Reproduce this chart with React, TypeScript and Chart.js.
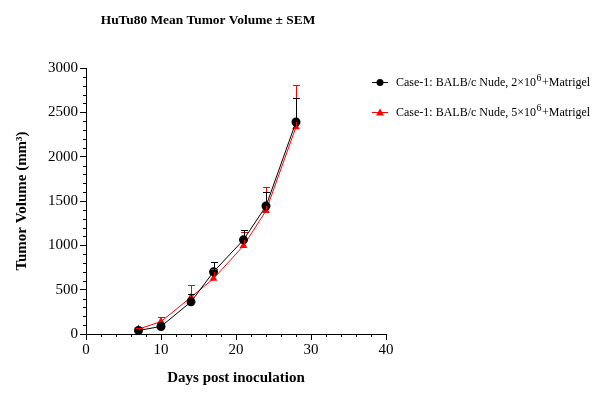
import React, { useEffect, useRef } from "react";
import { Chart, registerables } from "chart.js";

Chart.register(...registerables);

// Days post inoculation
const days = [7, 10, 14, 17, 21, 24, 28];

// Group 1: BALB/c Nude, 2×10^6 cells + Matrigel
const meanLow = [40, 85, 363, 701, 1062, 1443, 2391];
const semLow = [8, 20, 90, 113, 108, 157, 267];

// Group 2: BALB/c Nude, 5×10^6 cells + Matrigel
const meanHigh = [55, 140, 415, 625, 995, 1391, 2335];
const semHigh = [15, 50, 135, 105, 155, 263, 470];

const seriesLabels = [
  "Case-1: BALB/c Nude, 2×10|6|+Matrigel",
  "Case-1: BALB/c Nude, 5×10|6|+Matrigel",
];
const seriesColors = ["#000000", "#ff0000"];
const seriesMarkers = ["circle", "triangle"];

const chartTitle = "HuTu80 Mean Tumor Volume ± SEM";
const xTitle = "Days post inoculation";
const yTitle = "Tumor Volume (mm³)";

const xTicks = [0, 10, 20, 30, 40];
const yTicks = [0, 500, 1000, 1500, 2000, 2500, 3000];

const SERIF = "'Liberation Serif', 'Times New Roman', serif";

// Upper SEM whiskers drawn above each mean
const errorBars = {
  id: "errorBars",
  afterDatasetsDraw(chart: any) {
    const ctx = chart.ctx;
    const y = chart.scales.y;
    const sems = [semLow, semHigh];
    ctx.save();
    for (let d = chart.data.datasets.length - 1; d >= 0; d--) {
      const meta = chart.getDatasetMeta(d);
      const ds = chart.data.datasets[d];
      ctx.strokeStyle = ds.borderColor;
      ctx.lineWidth = 1;
      meta.data.forEach((pt: any, i: number) => {
        const v = ds.data[i].y;
        const top = Math.round(y.getPixelForValue(v + sems[d][i])) + 0.5;
        const px = Math.round(pt.x) + 0.5;
        ctx.beginPath();
        ctx.moveTo(px, pt.y);
        ctx.lineTo(px, top);
        ctx.moveTo(px - 3.5, top);
        ctx.lineTo(px + 3.5, top);
        ctx.stroke();
      });
    }
    ctx.restore();
  },
};

// Minor ticks, title and the legend with a superscript exponent
const decorations = {
  id: "decorations",
  afterDraw(chart: any) {
    const ctx = chart.ctx;
    const xs = chart.scales.x;
    const ys = chart.scales.y;
    const area = chart.chartArea;
    ctx.save();
    ctx.strokeStyle = "#000";
    ctx.lineWidth = 1;
    ctx.beginPath();
    for (let v = 0; v <= 40; v += 2) {
      if (v % 10 === 0) continue;
      const px = Math.round(xs.getPixelForValue(v)) + 0.5;
      ctx.moveTo(px, area.bottom);
      ctx.lineTo(px, area.bottom + 3);
    }
    for (let v = 0; v <= 3000; v += 100) {
      if (v % 500 === 0) continue;
      const py = Math.round(ys.getPixelForValue(v)) + 0.5;
      ctx.moveTo(area.left, py);
      ctx.lineTo(area.left - 3, py);
    }
    ctx.stroke();

    ctx.fillStyle = "#000";
    ctx.font = `bold 13.4px ${SERIF}`;
    ctx.textAlign = "center";
    ctx.textBaseline = "middle";
    ctx.fillText(chartTitle, 208, 21);

    // legend
    const lx = 372;
    const rows = [82, 112];
    rows.forEach((ry, i) => {
      const col = seriesColors[i];
      ctx.strokeStyle = col;
      ctx.fillStyle = col;
      ctx.beginPath();
      ctx.moveTo(lx, ry + 0.5);
      ctx.lineTo(lx + 16, ry + 0.5);
      ctx.stroke();
      const cx = lx + 8;
      ctx.beginPath();
      if (seriesMarkers[i] === "circle") {
        ctx.arc(cx, ry + 0.5, 3.5, 0, Math.PI * 2);
      } else {
        ctx.moveTo(cx, ry - 3.5);
        ctx.lineTo(cx + 4, ry + 3.5);
        ctx.lineTo(cx - 4, ry + 3.5);
        ctx.closePath();
      }
      ctx.fill();

      const [a, sup, b] = seriesLabels[i].split("|");
      ctx.fillStyle = "#000";
      ctx.textAlign = "left";
      ctx.textBaseline = "middle";
      let tx = 396;
      ctx.font = `12px ${SERIF}`;
      ctx.fillText(a, tx, ry + 1);
      tx += ctx.measureText(a).width;
      ctx.font = `10px ${SERIF}`;
      ctx.fillText(sup, tx + 0.5, ry - 4);
      tx += ctx.measureText(sup).width + 1;
      ctx.font = `12px ${SERIF}`;
      ctx.fillText(b, tx, ry + 1);
    });
    ctx.restore();
  },
};

export default function App() {
  const ref = useRef<HTMLCanvasElement | null>(null);

  useEffect(() => {
    if (!ref.current) return;
    const makeData = (vals: number[]) => days.map((d, i) => ({ x: d, y: vals[i] }));
    const chart = new Chart(ref.current, {
      type: "line",
      data: {
        datasets: [
          {
            label: seriesLabels[0].replace(/\|/g, ""),
            data: makeData(meanLow),
            borderColor: seriesColors[0],
            backgroundColor: seriesColors[0],
            borderWidth: 1,
            pointStyle: "circle",
            pointRadius: 4.5,
            pointBorderWidth: 0,
            tension: 0,
          },
          {
            label: seriesLabels[1].replace(/\|/g, ""),
            data: makeData(meanHigh),
            borderColor: seriesColors[1],
            backgroundColor: seriesColors[1],
            borderWidth: 1,
            pointStyle: "triangle",
            pointRadius: 4.5,
            pointBorderWidth: 0,
            tension: 0,
          },
        ],
      },
      options: {
        responsive: false,
        animation: false,
        devicePixelRatio: 1,
        layout: { padding: { top: 68, right: 218, left: 0, bottom: 23 } },
        plugins: {
          legend: { display: false },
          title: { display: false },
          tooltip: { enabled: false },
        },
        scales: {
          x: {
            type: "linear",
            min: 0,
            max: 40,
            afterBuildTicks: (s: any) => {
              s.ticks = xTicks.map((v) => ({ value: v }));
            },
            afterFit: (s: any) => {
              s.height = 60;
            },
            grid: {
              display: true,
              drawOnChartArea: false,
              drawTicks: true,
              tickLength: 6,
              tickColor: "#000",
              tickWidth: 1,
            },
            border: { display: true, color: "#000", width: 1 },
            ticks: {
              color: "#000",
              font: { family: SERIF, size: 15 },
              padding: 1,
              maxRotation: 0,
              callback: (v: any) => String(v),
            },
            title: {
              display: true,
              text: xTitle,
              color: "#000",
              font: { family: SERIF, size: 15, weight: "bold" },
              padding: { top: 0, bottom: 7 },
            },
          },
          y: {
            type: "linear",
            min: 0,
            max: 3000,
            afterBuildTicks: (s: any) => {
              s.ticks = yTicks.map((v) => ({ value: v }));
            },
            afterFit: (s: any) => {
              s.width = 86;
            },
            grid: {
              display: true,
              drawOnChartArea: false,
              drawTicks: true,
              tickLength: 6,
              tickColor: "#000",
              tickWidth: 1,
            },
            border: { display: true, color: "#000", width: 1 },
            ticks: {
              color: "#000",
              font: { family: SERIF, size: 15 },
              padding: 2,
              callback: (v: any) => String(v),
            },
            title: {
              display: true,
              text: yTitle,
              color: "#000",
              font: { family: SERIF, size: 15, weight: "bold" },
              padding: { top: 13, bottom: 0 },
            },
          },
        },
      },
      plugins: [errorBars, decorations],
    });
    return () => chart.destroy();
  }, []);

  return (
    <div style={{ position: "fixed", left: 0, top: 0, width: 604, height: 417, background: "#fff" }}>
      <canvas ref={ref} width={604} height={417} style={{ display: "block" }} />
    </div>
  );
}
